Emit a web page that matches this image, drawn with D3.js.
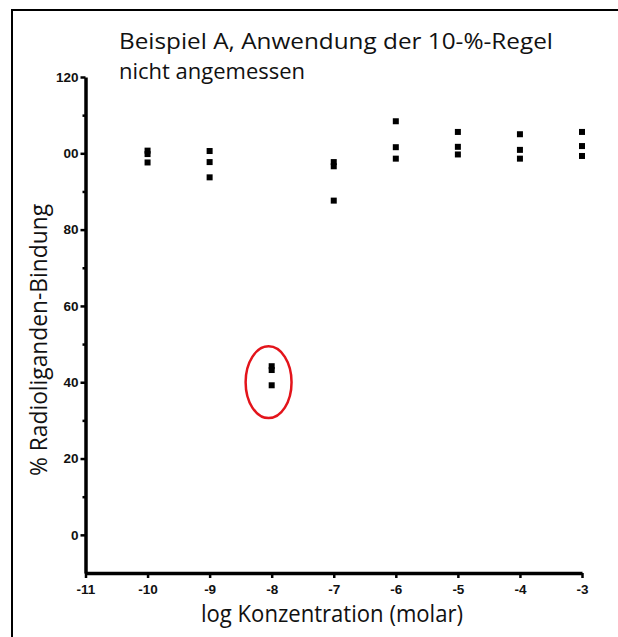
<!DOCTYPE html>
<html lang="de">
<head>
<meta charset="UTF-8">
<script src="https://d3js.org/d3.v7.min.js"></script>
<title>Beispiel A</title>
<style>
  body { margin: 0; background: #fff; }
  .lbl { font-family: "Open Sans", Lato, sans-serif; fill: #111; }
</style>
</head>
<body>
<svg id="chart" width="618" height="637"></svg>
<script>
// data
const concentrations = [-10, -9, -8, -7, -6, -5, -4, -3]
const rep1 = [100.7, 100.6, 44.2, 97.7, 108.4, 105.6, 105.0, 105.6]
const rep2 = [99.8, 97.7, 43.2, 96.6, 101.6, 101.7, 100.9, 101.9]
const rep3 = [97.6, 93.7, 39.2, 87.6, 98.6, 99.7, 98.6, 99.3]

const xTicks = [-11, -10, -9, -8, -7, -6, -5, -4, -3]
const yTicks = [0, 20, 40, 60, 80, 100, 120]
const yTickLabels = ["0", "20", "40", "60", "80", "00", "120"]
const yMinor = [10, 30, 50, 70, 90, 110]

const titleLines = ["Beispiel A, Anwendung der 10-%-Regel", "nicht angemessen"]
const xTitle = "log Konzentration (molar)"
const yTitle = "% Radioliganden-Bindung"

// outlier marked by the red ellipse (data units)
const outlier = { x: -8.05, y: 40, rx: 0.37, ry: 9.4 }

const svg = d3.select("#chart")

// frame around the figure (goes past right and bottom edge)
svg.append("rect")
    .attr("x", 12).attr("y", 10)
    .attr("width", 640).attr("height", 660)
    .attr("fill", "none").attr("stroke", "#000").attr("stroke-width", 2)

let x = d3.scaleLinear().domain([-11, -3]).range([85.5, 582])
let y = d3.scaleLinear().domain([-10, 120]).range([573, 77])

function styleTicks(g) {
    g.selectAll(".tick text")
        .style("font-family", "'Liberation Sans', Arial, sans-serif")
        .style("font-weight", "bold")
        .style("font-size", "13.5px")
        .style("fill", "#111")
    g.selectAll(".tick line").attr("stroke-width", 2.5)
    g.select(".domain").attr("stroke-width", 3.5)
}

// minor y ticks
svg.append("g")
    .attr("transform", `translate(${x(-11)},0)`)
    .call(d3.axisLeft(y).tickValues(yMinor).tickSize(3).tickFormat(""))
    .call(g => g.select(".domain").remove())
    .call(g => g.selectAll("line").attr("stroke-width", 2.5))

svg.append("g")
    .attr("transform", `translate(${x(-11)},0)`)
    .call(d3.axisLeft(y).tickValues(yTicks).tickSize(5).tickSizeOuter(0).tickPadding(2)
        .tickFormat((d, i) => yTickLabels[i]))
    .call(styleTicks)

svg.append("g")
    .attr("transform", `translate(0,${y(-10)})`)
    .call(d3.axisBottom(x).tickValues(xTicks).tickSize(5).tickSizeOuter(0).tickPadding(6)
        .tickFormat(d => "-" + Math.abs(d)))
    .call(styleTicks)

// points, three replicates per concentration
let points = []
concentrations.forEach((c, i) => {
    points.push({ c: c, v: rep1[i] })
    points.push({ c: c, v: rep2[i] })
    points.push({ c: c, v: rep3[i] })
})

svg.append("g")
    .selectAll("rect")
    .data(points)
    .enter()
    .append("rect")
    .attr("x", d => x(d.c) - 3)
    .attr("y", d => y(d.v) - 3)
    .attr("width", 6).attr("height", 6)
    .attr("fill", "#000")

// red ellipse around the outlier
svg.append("ellipse")
    .attr("cx", x(outlier.x))
    .attr("cy", y(outlier.y))
    .attr("rx", x(outlier.x + outlier.rx) - x(outlier.x))
    .attr("ry", y(outlier.y) - y(outlier.y + outlier.ry))
    .attr("fill", "none").attr("stroke", "#e3141b").attr("stroke-width", 2.5)

// title, two lines in one text
let title = svg.append("text").attr("class", "lbl")
    .style("font-size", "22px")
title.append("tspan")
    .attr("x", 119).attr("y", 49)
    .attr("textLength", 434).attr("lengthAdjust", "spacingAndGlyphs")
    .text(titleLines[0])
title.append("tspan")
    .attr("x", 119).attr("y", 79)
    .attr("textLength", 186).attr("lengthAdjust", "spacingAndGlyphs")
    .text(titleLines[1])

// axis titles
svg.append("text").attr("class", "lbl")
    .attr("x", 332).attr("y", 622)
    .attr("text-anchor", "middle")
    .style("font-size", "23px")
    .attr("textLength", 262).attr("lengthAdjust", "spacingAndGlyphs")
    .text(xTitle)

svg.append("text").attr("class", "lbl")
    .attr("transform", "translate(47,340) rotate(-90)")
    .attr("text-anchor", "middle")
    .style("font-size", "23px")
    .attr("textLength", 272).attr("lengthAdjust", "spacingAndGlyphs")
    .text(yTitle)
</script>
</body>
</html>
